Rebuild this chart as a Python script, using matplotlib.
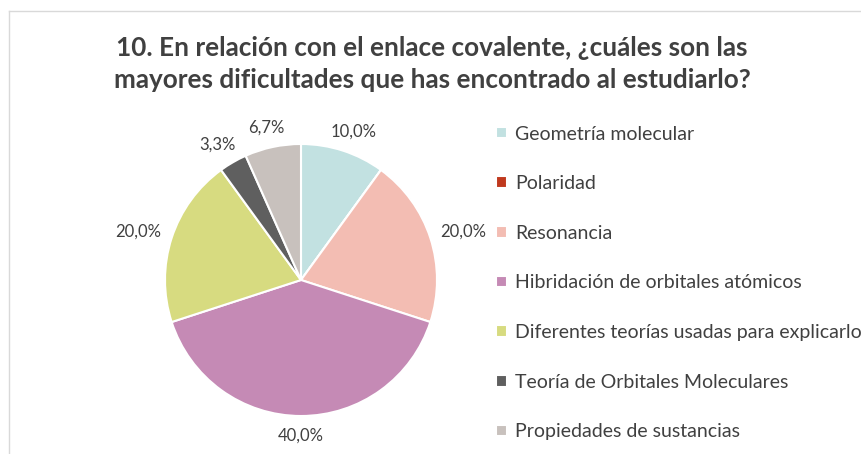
import numpy as np
import matplotlib.pyplot as plt
from matplotlib.lines import Line2D

plt.rcParams['font.family'] = ['Lato', 'DejaVu Sans']

categorias = ['Geometría molecular', 'Polaridad', 'Resonancia',
              'Hibridación de orbitales atómicos',
              'Diferentes teorías usadas para explicarlo',
              'Teoría de Orbitales Moleculares', 'Propiedades de sustancias']
respuestas = [3, 0, 6, 12, 6, 1, 2]
colores = ['#c2e1e1', '#c0391e', '#f3bdb3', '#c58ab5', '#d7db80', '#5f5f5f', '#c8c1bd']
titulo = ('10. En relación con el enlace covalente, ¿cuáles son las\n'
          'mayores dificultades que has encontrado al estudiarlo?')

W, H = 862, 454
fig = plt.figure(figsize=(W / 100, H / 100), dpi=100)

# marco gris claro del gráfico
fig.add_artist(Line2D([9 / W, 1], [1 - 11 / H] * 2, color='#d9d9d9', lw=1))
fig.add_artist(Line2D([9 / W] * 2, [0, 1 - 11 / H], color='#d9d9d9', lw=1))

fig.text(432 / W, 1 - 64 / H, titulo, ha='center', va='center',
         fontsize=18.8, fontweight='bold', color='#404040', linespacing=1.36)

cx, cy, r = 301, 280, 136
ax = fig.add_axes([(cx - r) / W, (H - cy - r) / H, 2 * r / W, 2 * r / H])


def fmt(p):
    if p < 0.5:
        return ''
    return f'{p:.1f}'.replace('.', ',') + '%'


wedges, _, autot = ax.pie(respuestas, colors=colores, startangle=90, counterclock=False,
                          autopct=fmt, pctdistance=1.2,
                          wedgeprops=dict(edgecolor='white', linewidth=1.5),
                          textprops=dict(fontsize=12, color='#404040', ha='center', va='center'))
ax.set_xlim(-1, 1)
ax.set_ylim(-1, 1)
ax.set_aspect('equal')

# etiquetas fuera del círculo, con su caja a una distancia fija del borde
fig.canvas.draw()
renderer = fig.canvas.get_renderer()
gap = 12 / r
for w, t in zip(wedges, autot):
    if not t.get_text():
        continue
    th = np.deg2rad((w.theta1 + w.theta2) / 2)
    bb = t.get_window_extent(renderer)
    hw = bb.width / 2 / r
    hh = bb.height / 2 / r
    t.set_position(((1 + gap) * np.cos(th) + hw * np.cos(th),
                    (1 + gap) * np.sin(th) + hh * np.sin(th)))

fig.legend(wedges, categorias, loc='upper left', bbox_to_anchor=(479 / W, 1 - 108 / H),
           frameon=False, fontsize=14, handlelength=0.55, handleheight=0.55,
           handletextpad=0.4, labelspacing=1.68, labelcolor='#404040')

fig.savefig('out.png', dpi=100)
